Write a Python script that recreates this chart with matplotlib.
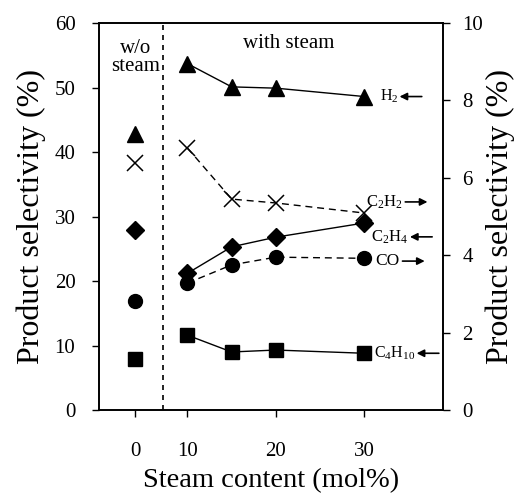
import matplotlib
matplotlib.use('Agg')
import matplotlib.pyplot as plt
from matplotlib.text import OffsetFrom

plt.rcParams['font.family'] = ['Liberation Serif', 'DejaVu Serif']
plt.rcParams['mathtext.fontset'] = 'custom'
plt.rcParams['mathtext.rm'] = 'Liberation Serif'
plt.rcParams['mathtext.it'] = 'Liberation Serif:italic'

# steam content (mol%) for the "with steam" runs
steam = [10, 15, 20, 30]
WO_POS = 4.1   # where the 0 mol% (w/o steam) column sits on the axis

# left axis (%)
h2 = [53.7, 50.1, 49.9, 48.6]
h2_wo = 42.8
c2h4 = [21.2, 25.3, 26.8, 29.0]
c2h4_wo = 27.9
c4h10 = [11.6, 9.0, 9.3, 8.8]
c4h10_wo = 7.9

# right axis (%)
c2h2 = [6.77, 5.45, 5.35, 5.09]
c2h2_wo = 6.38
co = [3.28, 3.75, 3.95, 3.92]
co_wo = 2.82

xtick_pos = [WO_POS, 10, 20, 30]
xtick_lab = ['0', '10', '20', '30']

fig = plt.figure(figsize=(5.22, 4.97), dpi=100)
ax = fig.add_axes([0.1897, 0.175, 0.659, 0.7787])
ax2 = ax.twinx()

k = 'black'
ax.plot(steam, h2, '-', color=k, lw=1.0, marker='^', ms=11)
ax.plot([WO_POS], [h2_wo], ls='none', color=k, marker='^', ms=11)
ax.plot(steam, c2h4, '-', color=k, lw=1.0, marker='D', ms=9.5)
ax.plot([WO_POS], [c2h4_wo], ls='none', color=k, marker='D', ms=9.5)
ax.plot(steam, c4h10, '-', color=k, lw=1.0, marker='s', ms=10.5)
ax.plot([WO_POS], [c4h10_wo], ls='none', color=k, marker='s', ms=10.5)

ax2.plot(steam, c2h2, '--', color=k, lw=1.0, dashes=(5, 3.5), marker='x', ms=12, mew=1.1)
ax2.plot([WO_POS], [c2h2_wo], ls='none', color=k, marker='x', ms=12, mew=1.1)
ax2.plot(steam, co, '--', color=k, lw=1.0, dashes=(5, 3.5), marker='o', ms=10)
ax2.plot([WO_POS], [co_wo], ls='none', color=k, marker='o', ms=10)

ax.axvline(7.2, color=k, lw=1.2, ls=(0, (3, 3)))

ax.set_xlim(0, 38.9)
ax.set_ylim(0, 60)
ax2.set_ylim(0, 10)
ax.set_xticks(xtick_pos)
ax.set_xticklabels(xtick_lab)
ax.set_yticks(range(0, 61, 10))
ax2.set_yticks(range(0, 11, 2))

for a in (ax, ax2):
    a.tick_params(direction='out', length=5, width=1, labelsize=15, pad=12)
    for s in a.spines.values():
        s.set_linewidth(1.2)
ax.tick_params(axis='x', pad=18)
ax2.tick_params(axis='y', pad=9)

ax.set_xlabel('Steam content (mol%)', fontsize=20.5, labelpad=5)
ax.set_ylabel('Product selectivity (%)', fontsize=23, labelpad=6)
ax2.set_ylabel('Product selectivity (%)', fontsize=23, labelpad=2)

ax.text(WO_POS, 57.5, 'w/o\nsteam', ha='center', va='top', fontsize=15, linespacing=0.95)
ax.text(21.5, 56.8, 'with steam', ha='center', va='center', fontsize=15)

# species labels with arrows pointing to the axis they belong to
labels = [
    (ax, h2[-1], r'H$_2$', 11, 0, 'left', 11.5),
    (ax2, c2h2[-1], r'C$_2$H$_2$', 1, 8, 'right', 12),
    (ax, c2h4[-1], r'C$_2$H$_4$', 5, -10, 'left', 12),
    (ax2, co[-1], r'CO', 8, -2, 'right', 12.5),
    (ax, c4h10[-1], r'C$_4$H$_{10}$', 7, 0, 'left', 11.5),
]
for a, v, lab, dx, dy, side, fs in labels:
    an = a.annotate(lab, xy=(steam[-1], v), xytext=(dx, dy), textcoords='offset points',
                    ha='left', va='center', fontsize=fs)
    ref = OffsetFrom(an, (1, 0.5))
    if side == 'left':
        tip, tail = (1, 0), (17, 0)
    else:
        tip, tail = (18, 0), (2, 0)
    a.annotate('', xy=tip, xycoords=ref, xytext=tail, textcoords=ref,
               arrowprops=dict(arrowstyle='-|>', color=k, lw=1.2, mutation_scale=11,
                               shrinkA=0, shrinkB=0))

fig.savefig('out.png', dpi=100)
